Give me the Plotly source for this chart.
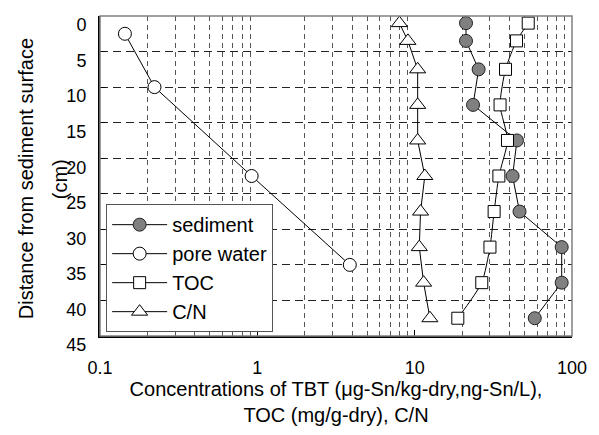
import plotly.graph_objects as go

# Data (x = concentration, y = depth in cm)
sed_depth = [1, 3.5, 7.5, 12.5, 17.5, 22.5, 27.5, 32.5, 37.5, 42.5]
sed_val = [21.2, 21.2, 25.5, 23.5, 44.7, 41.9, 46.4, 86, 86, 58]

pw_depth = [2.5, 10, 22.5, 35]
pw_val = [0.144, 0.222, 0.92, 3.87]

toc_depth = [1, 3.5, 7.5, 12.5, 17.5, 22.5, 27.5, 32.5, 37.5, 42.5]
toc_val = [52.7, 44.4, 37.8, 34.9, 38.9, 34.3, 32.0, 30.1, 26.7, 18.8]

cn_depth = [1, 3.5, 7.5, 12.5, 17.5, 22.5, 27.5, 32.5, 37.5, 42.5]
cn_val = [8.0, 9.06, 10.45, 10.45, 10.45, 11.6, 10.9, 10.7, 11.4, 12.5]

x_ticks = [0.1, 1, 10, 100]
x_ticklabels = ["0.1", "1", "10", "100"]
y_ticks = list(range(0, 50, 5))
minor_grid = [m * d for d in (0.1, 1, 10) for m in range(2, 10)]

FONT = "Liberation Sans, Arial, sans-serif"
line = dict(color="black", width=1)

fig = go.Figure()
fig.add_trace(go.Scatter(x=sed_val, y=sed_depth, name="sediment", mode="lines+markers",
                         line=line,
                         marker=dict(symbol="circle", size=13, color="#808080",
                                     line=dict(color="#222", width=1))))
fig.add_trace(go.Scatter(x=pw_val, y=pw_depth, name="pore water", mode="lines+markers",
                         line=line,
                         marker=dict(symbol="circle", size=13, color="white",
                                     line=dict(color="black", width=1))))
fig.add_trace(go.Scatter(x=toc_val, y=toc_depth, name="TOC", mode="lines+markers",
                         line=dict(color="black", width=1, shape="spline", smoothing=0.6),
                         marker=dict(symbol="square", size=12, color="white",
                                     line=dict(color="black", width=1))))
fig.add_trace(go.Scatter(x=cn_val, y=cn_depth, name="C/N", mode="lines+markers",
                         line=line,
                         marker=dict(symbol="triangle-up", size=14, color="white",
                                     line=dict(color="black", width=1))))

# invisible trace on secondary x axis to carry minor gridlines
fig.add_trace(go.Scatter(x=[0.1, 100], y=[0, 0], xaxis="x2", mode="markers",
                         marker=dict(opacity=0), showlegend=False, hoverinfo="skip"))

fig.update_layout(
    width=599, height=435,
    margin=dict(l=100, r=27, t=16, b=97),
    paper_bgcolor="white", plot_bgcolor="white",
    font=dict(family=FONT, size=18, color="black"),
    showlegend=True,
    legend=dict(x=0.013, y=0.012, xanchor="left", yanchor="bottom",
                bordercolor="#555", borderwidth=1, bgcolor="white",
                font=dict(size=20), tracegroupgap=0, itemwidth=55),
    xaxis=dict(type="log", range=[-1, 2], tickvals=x_ticks, ticktext=x_ticklabels,
               ticks="inside", ticklen=6, tickcolor="black",
               showgrid=False, zeroline=False,
               showline=True, linecolor="black", linewidth=2,
               tickfont=dict(size=18), ticklabelstandoff=14,
               title=dict(text="Concentrations of TBT (\u03bcg-Sn/kg-dry,ng-Sn/L),<br>TOC (mg/g-dry), C/N",
                          font=dict(size=20), standoff=5)),
    xaxis2=dict(type="log", range=[-1, 2], overlaying="x", tickvals=minor_grid,
                showticklabels=False, ticks="", showgrid=True,
                gridcolor="#555", gridwidth=1, griddash="5px,4px", showline=False,
                zeroline=False),
    yaxis=dict(range=[45, 0], tickvals=y_ticks, ticks="inside", ticklen=5,
               tickcolor="black", showgrid=True, gridcolor="#222", gridwidth=1,
               griddash="8px,5px", zeroline=False,
               showline=True, linecolor="black", linewidth=2,
               tickfont=dict(size=18), ticklabelstandoff=8, ticklabelshift=-9),
    annotations=[
        dict(text="Distance from sediment surface", textangle=-90, showarrow=False,
             xref="paper", yref="paper", x=0, y=0.49, xshift=-74, xanchor="center",
             yanchor="middle", font=dict(size=20)),
        dict(text="(cm)", textangle=-90, showarrow=False,
             xref="paper", yref="paper", x=0, y=0.49, xshift=-40, xanchor="center",
             yanchor="middle", font=dict(size=20)),
    ],
    shapes=[dict(type="rect", xref="paper", yref="paper", x0=0, y0=0, x1=1, y1=1,
                 line=dict(color="#808080", width=1.5), layer="above")],
)

fig.write_html("out.html")
